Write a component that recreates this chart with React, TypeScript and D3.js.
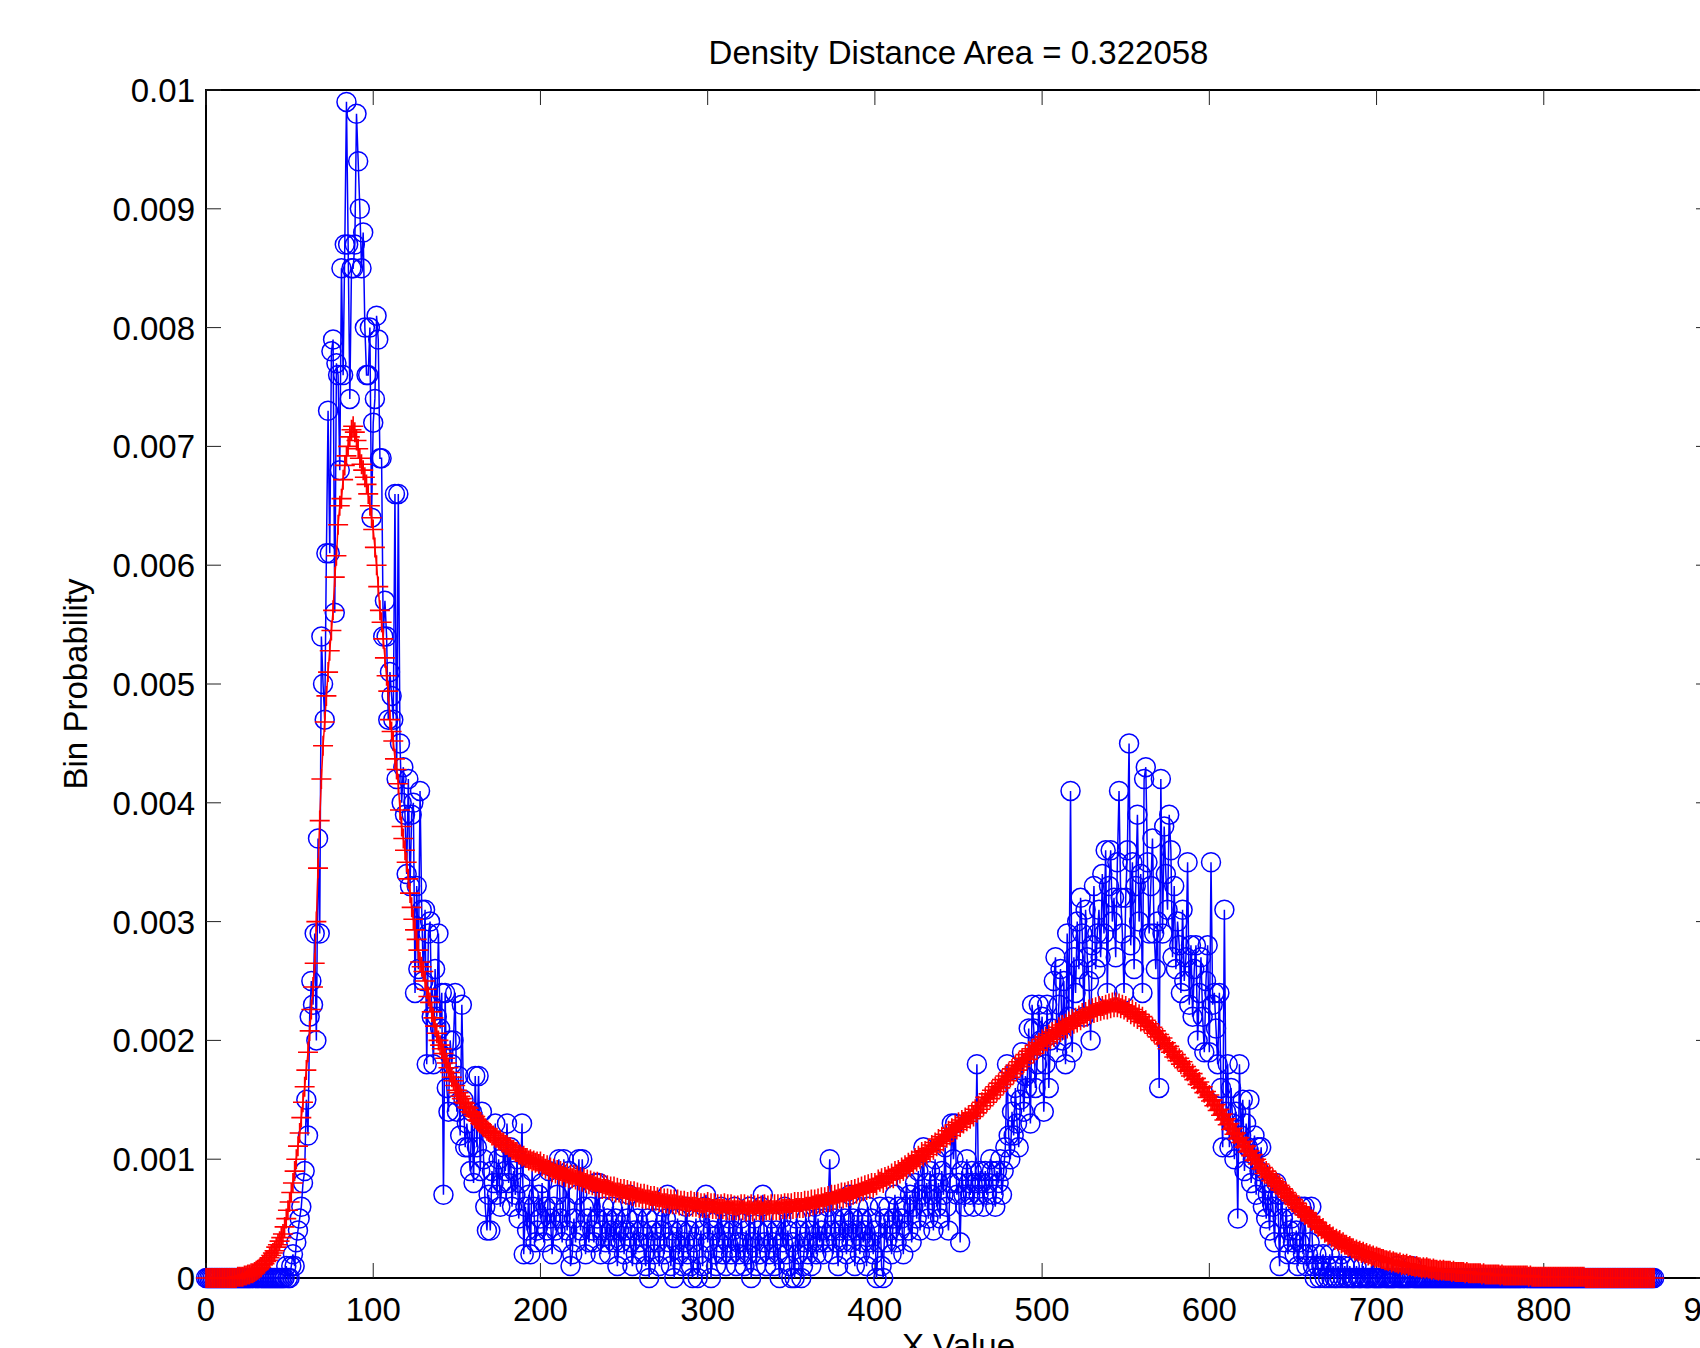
import React from 'react';
import * as d3 from 'd3';

const TITLE = 'Density Distance Area = 0.322058';
const X_LABEL = 'X Value';
const Y_LABEL = 'Bin Probability';

const xTickValues = [0, 100, 200, 300, 400, 500, 600, 700, 800, 900];
const yTickValues = [0, 0.001, 0.002, 0.003, 0.004, 0.005, 0.006, 0.007, 0.008, 0.009, 0.01];
const yTickLabels = ['0', '0.001', '0.002', '0.003', '0.004', '0.005', '0.006', '0.007', '0.008', '0.009', '0.01'];

// Blue series: bin probability in units of 0.0001, one value per X bin starting at 0
const blueRise = [
  0, 0, 0, 0, 0, 0, 0, 0, 0, 0,
  0, 0, 0, 0, 0, 0, 0, 0, 0, 0,
  0, 0, 0, 0, 0, 0, 0, 0, 0, 0,
  0, 0, 0, 0, 0, 0, 0, 0, 0, 0,
  0, 0, 0, 0, 0, 0, 0, 0, 1, 0,
  0, 1, 2, 1, 3, 4, 5, 6, 8, 9,
  15, 12, 22, 25, 23, 29, 20, 37, 29, 54,
  50, 47, 61, 73, 61, 78, 79, 56, 77, 76,
  68, 85, 76, 87, 99, 87, 74, 85, 85, 87,
  98, 94, 90, 85, 88, 80, 76, 76, 80, 64,
  72, 74, 81, 79, 69, 69, 54, 57, 54, 47,
  51, 49, 47, 66, 42, 66, 45, 40, 43, 39,
  34, 42, 33, 39, 40, 24, 33, 26, 41, 31,
  25, 31, 18, 29, 30, 22, 18, 26, 22, 29,
  21, 24, 7, 24, 16, 14, 20, 18, 20, 24,
  14, 17, 12, 23, 15, 11, 13, 11, 9, 14,
];
const blueMiddle = [
  8, 17, 11, 17, 9, 14, 10, 6, 4, 7,
  4, 9, 8, 13, 7, 10, 6, 8, 11, 9,
  13, 8, 11, 6, 9, 7, 10, 5, 8, 13,
  2, 6, 4, 7, 2, 9, 6, 3, 4, 7,
  5, 8, 3, 6, 4, 9, 5, 2, 6, 4,
  7, 10, 5, 3, 10, 6, 4, 9, 1, 2,
  5, 3, 7, 10, 4, 10, 6, 2, 5, 3,
  6, 4, 3, 8, 5, 8, 2, 4, 6, 3,
  5, 2, 4, 6, 3, 5, 1, 4, 3, 6,
  2, 4, 5, 7, 3, 1, 4, 2, 5, 3,
  4, 6, 2, 1, 5, 0, 3, 4, 2, 5,
  3, 1, 4, 6, 2, 5, 7, 3, 1, 4,
  0, 3, 5, 2, 4, 1, 3, 6, 2, 4,
  1, 0, 3, 5, 0, 2, 4, 1, 6, 7,
  3, 5, 0, 4, 2, 1, 5, 3, 6, 2,
  4, 1, 3, 5, 2, 4, 6, 1, 3, 2,
  5, 3, 1, 4, 2, 6, 0, 3, 5, 1,
  4, 2, 6, 7, 3, 1, 4, 2, 5, 3,
  1, 4, 2, 0, 5, 3, 6, 2, 4, 1,
  0, 3, 0, 5, 2, 4, 0, 1, 3, 5,
  2, 4, 1, 3, 6, 2, 5, 3, 4, 2,
  5, 3, 6, 10, 4, 2, 5, 3, 1, 4,
  6, 3, 5, 2, 4, 7, 3, 5, 1, 4,
  6, 2, 5, 3, 4, 1, 6, 3, 5, 2,
  4, 0, 3, 6, 1, 0, 5, 3, 6, 4,
  2, 5, 7, 3, 6, 4, 5, 2, 6, 8,
  4, 7, 3, 6, 8, 5, 9, 4, 7, 11,
  6, 8, 5, 9, 7, 4, 10, 6, 8, 5,
  9, 7, 11, 6, 4, 8, 13, 10, 13, 7,
];
const bluePeak2 = [
  8, 3, 9, 7, 6, 10, 8, 7, 9, 6,
  8, 18, 7, 9, 8, 6, 9, 7, 8, 10,
  9, 7, 6, 9, 8, 10, 7, 9, 11, 18,
  12, 10, 14, 12, 16, 13, 11, 15, 19, 14,
  17, 16, 21, 13, 23, 21, 16, 18, 23, 20,
  22, 14, 18, 23, 16, 20, 21, 25, 27, 19,
  23, 26, 20, 25, 18, 29, 22, 41, 19, 27,
  24, 30, 26, 32, 29, 22, 31, 27, 25, 20,
  28, 33, 26, 29, 31, 27, 34, 29, 36, 24,
  33, 36, 30, 32, 27, 35, 41, 32, 29, 24,
  32, 36, 45, 28, 35, 26, 33, 39, 30, 34,
  24, 42, 43, 35, 29, 33, 37, 29, 26, 30,
  16, 42, 29, 38, 34, 31, 39, 36, 27, 33,
  26, 30, 28, 24, 31, 25, 27, 35, 23, 28,
  22, 26, 28, 20, 24, 27, 22, 19, 25, 28,
  19, 35, 23, 24, 21, 18, 24, 16, 11, 31,
  14, 18, 11, 16, 13, 10, 14, 5, 18, 12,
  15, 9, 13, 11, 15, 8, 10, 12, 7, 11,
  9, 11, 6, 8, 5, 7, 4, 8, 6, 3,
  8, 7, 1, 7, 5, 3, 6, 2, 4, 5,
  3, 2, 4, 1, 3, 6, 2, 6, 1, 2,
  3, 6, 1, 0, 2, 1, 0, 1, 2, 0,
  1, 0, 2, 0, 1, 0, 0, 1, 0, 2,
  0, 1, 0, 0, 1, 0, 0, 0, 1, 0,
  0, 0, 1, 0, 0, 0, 0, 1, 0, 0,
  0, 0, 0, 0, 1, 0, 0, 0, 0, 0,
];
const blueTail = [
  0, 0, 1, 0, 0, 0, 0, 0, 0, 0,
  0, 1, 0, 0, 0, 0, 0, 0, 0, 0,
  0, 0, 0, 0, 0, 0, 0, 0, 0, 0,
  0, 0, 0, 0, 0, 0, 0, 0, 0, 0,
  0, 0, 0, 0, 0, 0, 0, 0, 0, 0,
  0, 0, 0, 0, 0, 0, 0, 0, 0, 0,
  0, 0, 0, 0, 0, 0, 0, 0, 0, 0,
  0, 0, 0, 0, 0, 0, 0, 0, 0, 0,
  0, 0, 0, 0, 0, 0, 0, 0, 0, 0,
  0, 0, 0, 0, 0, 0, 0, 0, 0, 0,
  0, 0, 0, 0, 0, 0, 0, 0, 0, 0,
  0, 0, 0, 0, 0, 0, 0, 0, 0, 0,
  0, 0, 0, 0, 0, 0, 0, 0, 0, 0,
  0, 0, 0, 0, 0, 0, 0, 0, 0, 0,
  0, 0, 0, 0, 0, 0, 0, 0, 0, 0,
  0, 0, 0, 0, 0, 0, 0,
];

// Red series: bin probability in units of 0.00001, one value per X bin starting at 0
const redRise = [
  0, 0, 0, 0, 0, 0, 0, 0, 0, 0,
  0, 0, 0, 0, 0, 0, 0, 0, 0, 1,
  1, 1, 1, 2, 2, 3, 3, 4, 4, 5,
  6, 7, 8, 9, 11, 12, 14, 15, 17, 19,
  21, 23, 26, 28, 31, 34, 37, 43, 50, 57,
  64, 72, 80, 90, 100, 111, 122, 135, 148, 161,
  175, 190, 208, 226, 245, 265, 300, 345, 385, 420,
  448, 468, 490, 510, 528, 545, 562, 590, 608, 634,
  650, 656, 672, 684, 692, 700, 708, 714, 717, 712,
  705, 698, 690, 685, 680, 674, 668, 660, 650, 640,
  630, 615, 600, 582, 562, 552, 538, 522, 507, 494,
  470, 460, 452, 437, 428, 416, 394, 380, 370, 360,
  350, 336, 324, 312, 302, 293, 285, 276, 266, 262,
  258, 250, 243, 237, 232, 224, 219, 212, 206, 200,
  196, 193, 189, 185, 181, 177, 173, 169, 166, 162,
];
const redMiddle = [
  158, 156, 153, 151, 148, 147, 144, 143, 140, 139,
  137, 136, 133, 132, 130, 129, 127, 126, 124, 123,
  122, 120, 120, 118, 118, 116, 116, 114, 114, 112,
  112, 110, 110, 108, 108, 106, 106, 104, 104, 102,
  103, 101, 101, 99, 100, 98, 99, 97, 98, 96,
  98, 94, 96, 92, 95, 91, 93, 89, 92, 88,
  91, 87, 90, 86, 89, 85, 88, 84, 87, 84,
  87, 83, 86, 82, 85, 81, 84, 80, 83, 79,
  82, 78, 81, 77, 81, 76, 80, 75, 79, 75,
  78, 74, 77, 73, 77, 72, 76, 72, 75, 71,
  75, 70, 74, 70, 73, 69, 73, 68, 72, 68,
  71, 67, 71, 66, 70, 66, 69, 65, 69, 65,
  68, 64, 68, 63, 67, 63, 67, 62, 66, 62,
  66, 62, 66, 61, 65, 61, 65, 60, 64, 60,
  65, 60, 64, 60, 64, 59, 63, 59, 63, 59,
  64, 59, 63, 58, 63, 58, 62, 58, 62, 58,
  63, 57, 62, 57, 62, 57, 61, 57, 61, 57,
  62, 57, 62, 56, 61, 57, 62, 56, 61, 57,
  62, 57, 61, 56, 62, 57, 61, 57, 62, 57,
  62, 57, 62, 57, 62, 58, 63, 58, 63, 58,
  63, 58, 64, 59, 64, 59, 64, 59, 65, 60,
  65, 60, 66, 61, 66, 62, 67, 62, 68, 63,
  68, 64, 69, 64, 70, 65, 70, 66, 71, 67,
  72, 67, 72, 68, 73, 69, 74, 70, 75, 71,
  76, 72, 77, 73, 78, 74, 79, 75, 80, 76,
];
const redPeak2 = [
  80, 78, 83, 81, 84, 80, 85, 83, 86, 84,
  88, 84, 90, 86, 91, 88, 93, 90, 95, 92,
  97, 94, 99, 96, 101, 98, 103, 100, 106, 102,
  107, 104, 109, 106, 112, 108, 114, 111, 117, 113,
  119, 115, 121, 118, 124, 120, 126, 123, 129, 125,
  131, 127, 133, 130, 135, 132, 137, 134, 139, 136,
  142, 139, 145, 142, 148, 145, 152, 148, 155, 151,
  158, 154, 161, 157, 164, 160, 167, 163, 170, 166,
  173, 169, 176, 172, 179, 175, 182, 178, 185, 181,
  188, 184, 191, 188, 193, 189, 196, 192, 198, 195,
  201, 197, 203, 199, 205, 201, 207, 203, 209, 205,
  211, 207, 213, 209, 214, 210, 216, 212, 218, 214,
  219, 215, 221, 217, 223, 219, 224, 220, 226, 222,
  227, 223, 228, 224, 229, 225, 229, 226, 230, 226,
  231, 227, 232, 228, 232, 228, 231, 227, 230, 226,
  229, 224, 227, 222, 226, 220, 224, 218, 222, 216,
  220, 215, 217, 212, 214, 209, 211, 206, 208, 203,
  205, 200, 202, 197, 198, 193, 195, 190, 191, 186,
  188, 183, 185, 180, 182, 177, 178, 174, 175, 170,
  172, 167, 168, 163, 165, 160, 161, 156, 157, 152,
];
const redTail = [
  154, 149, 150, 145, 146, 141, 142, 137, 138, 133,
  134, 129, 130, 125, 126, 121, 122, 117, 118, 114,
  115, 110, 111, 106, 107, 103, 104, 99, 100, 96,
  96, 92, 93, 88, 90, 85, 87, 82, 84, 80,
  81, 77, 78, 74, 75, 71, 72, 68, 69, 65,
  66, 62, 63, 59, 60, 56, 57, 53, 55, 51,
  52, 48, 49, 46, 47, 43, 44, 41, 42, 38,
  39, 36, 37, 34, 35, 32, 33, 31, 32, 29,
  30, 28, 28, 26, 27, 25, 25, 23, 24, 22,
  23, 21, 22, 20, 21, 19, 20, 18, 19, 17,
  18, 17, 17, 16, 16, 15, 15, 14, 15, 13,
  14, 13, 13, 12, 13, 11, 12, 11, 12, 10,
  11, 10, 10, 9, 10, 9, 9, 8, 9, 8,
  9, 8, 8, 7, 8, 7, 7, 6, 7, 6,
  7, 6, 6, 6, 6, 5, 6, 5, 5, 5,
  5, 5, 5, 4, 5, 4, 4, 4, 4, 4,
  4, 4, 4, 3, 4, 3, 3, 3, 3, 3,
  3, 3, 3, 3, 2, 3, 2, 2, 2, 2,
  2, 2, 2, 2, 2, 2, 2, 2, 2, 2,
  2, 1, 2, 1, 1, 1, 1, 1, 1, 1,
  1, 1, 1, 1, 1, 1, 1, 1, 1, 1,
  1, 1, 1, 1, 1, 1, 1, 1, 1, 1,
  1, 1, 1, 1, 1, 0, 0, 0, 0, 0,
  0, 0, 0, 0, 0, 0, 0, 0, 0, 0,
  0, 0, 0, 0, 0, 0, 0, 0, 0, 0,
  0, 0, 0, 0, 0, 0, 0, 0, 0, 0,
  0, 0, 0, 0, 0, 0, 0,
];

const BLUE_UNIT = 1e-4;
const RED_UNIT = 1e-5;

type Pt = { x: number; y: number };

export default function App() {
  const width = 1700;
  const height = 1348;
  const plot = { left: 206, right: 1711, top: 90, bottom: 1278 };
  const x = d3.scaleLinear().domain([0, 900]).range([plot.left, plot.right]);
  const y = d3.scaleLinear().domain([0, 0.01]).range([plot.bottom, plot.top]);

  const blue: Pt[] = [...blueRise, ...blueMiddle, ...bluePeak2, ...blueTail].map((c, i) => ({ x: i, y: c * BLUE_UNIT }));
  const red: Pt[] = [...redRise, ...redMiddle, ...redPeak2, ...redTail].map((v, i) => ({ x: i, y: v * RED_UNIT }));

  const line = d3.line<Pt>().x((d) => x(d.x)).y((d) => y(d.y));
  const plusPath = red
    .map((d) => {
      const px = x(d.x);
      const py = y(d.y);
      return `M${px - 10},${py}H${px + 10}M${px},${py - 10}V${py + 10}`;
    })
    .join('');

  const font = '"Liberation Sans", Arial, Helvetica, sans-serif';
  const tickLen = 15;
  const fs = 33;

  return (
    <svg
      width={width}
      height={height}
      style={{ position: 'absolute', left: 0, top: 0, display: 'block' }}
      fontFamily={font}
    >
      <rect x={0} y={0} width={width} height={height} fill="#ffffff" />
      <rect
        x={plot.left}
        y={plot.top}
        width={plot.right - plot.left}
        height={plot.bottom - plot.top}
        fill="none"
        stroke="#000"
        strokeWidth={2}
      />
      {xTickValues.map((v) => (
        <g key={'xt' + v}>
          <line x1={x(v)} x2={x(v)} y1={plot.bottom} y2={plot.bottom - tickLen} stroke="#222" strokeWidth={1} />
          <line x1={x(v)} x2={x(v)} y1={plot.top} y2={plot.top + tickLen} stroke="#222" strokeWidth={1} />
          <text x={x(v)} y={plot.bottom + 42.5} textAnchor="middle" fontSize={fs} fill="#000">
            {String(v)}
          </text>
        </g>
      ))}
      {yTickValues.map((v, i) => (
        <g key={'yt' + i}>
          <line x1={plot.left} x2={plot.left + tickLen} y1={y(v)} y2={y(v)} stroke="#222" strokeWidth={1} />
          <line x1={plot.right} x2={plot.right - tickLen} y1={y(v)} y2={y(v)} stroke="#222" strokeWidth={1} />
          <text x={195} y={y(v) + 12} textAnchor="end" fontSize={fs} fill="#000">
            {yTickLabels[i]}
          </text>
        </g>
      ))}
      <text x={(plot.left + plot.right) / 2} y={64} textAnchor="middle" fontSize={fs} fill="#000">
        {TITLE}
      </text>
      <text x={(plot.left + plot.right) / 2} y={1357} textAnchor="middle" fontSize={fs} fill="#000">
        {X_LABEL}
      </text>
      <text transform={`translate(87,${(plot.top + plot.bottom) / 2}) rotate(-90)`} textAnchor="middle" fontSize={fs} fill="#000">
        {Y_LABEL}
      </text>

      <path d={line(blue) || ''} fill="none" stroke="#0000ff" strokeWidth={1.5} />
      {blue.map((d, i) => (
        <circle key={'b' + i} cx={x(d.x)} cy={y(d.y)} r={9.5} fill="none" stroke="#0000ff" strokeWidth={1.5} />
      ))}

      <path d={line(red) || ''} fill="none" stroke="#ff0000" strokeWidth={1.5} />
      <path d={plusPath} fill="none" stroke="#ff0000" strokeWidth={1.6} />
    </svg>
  );
}
